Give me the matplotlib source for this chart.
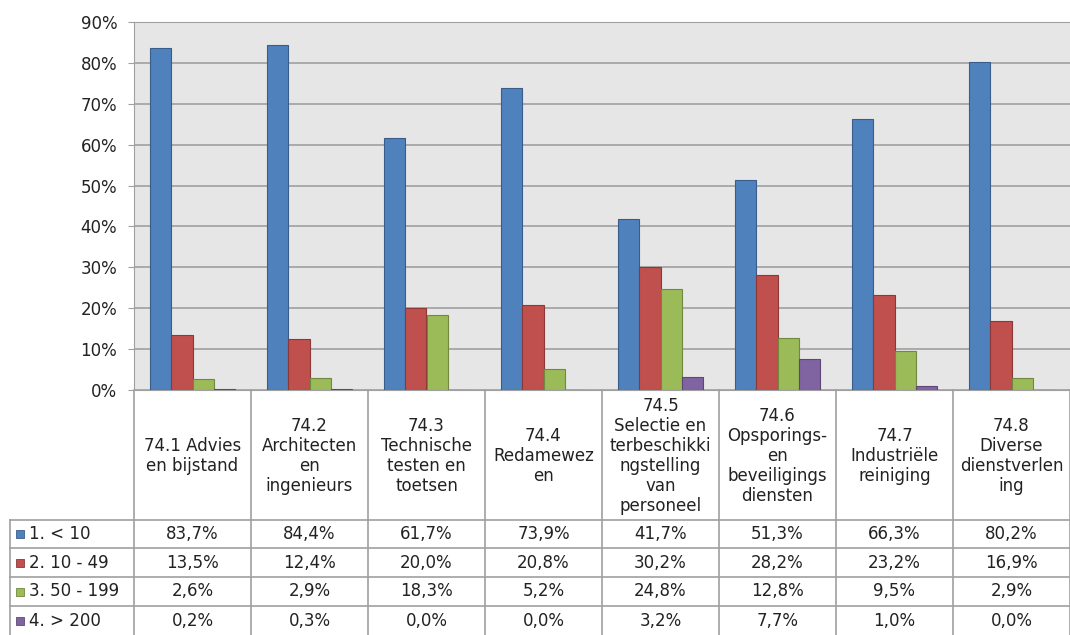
import numpy as np
import matplotlib.pyplot as plt
from matplotlib.patches import Rectangle

plt.rcParams['font.family'] = ['DejaVu Sans']

categories = ["74.1 Advies\nen bijstand",
              "74.2\nArchitecten\nen\ningenieurs",
              "74.3\nTechnische\ntesten en\ntoetsen",
              "74.4\nRedamewez\nen",
              "74.5\nSelectie en\nterbeschikki\nngstelling\nvan\npersoneel",
              "74.6\nOpsporings-\nen\nbeveiligings\ndiensten",
              "74.7\nIndustriële\nreiniging",
              "74.8\nDiverse\ndienstverlen\ning"]
series = ["1. < 10", "2. 10 - 49", "3. 50 - 199", "4. > 200"]
s1 = [83.7, 84.4, 61.7, 73.9, 41.7, 51.3, 66.3, 80.2]
s2 = [13.5, 12.4, 20.0, 20.8, 30.2, 28.2, 23.2, 16.9]
s3 = [2.6, 2.9, 18.3, 5.2, 24.8, 12.8, 9.5, 2.9]
s4 = [0.2, 0.3, 0.0, 0.0, 3.2, 7.7, 1.0, 0.0]
values = [s1, s2, s3, s4]
colors = ["#4F81BD", "#C0504D", "#9BBB59", "#8064A2"]
edges = ["#385D8A", "#8C3836", "#71893F", "#5C4776"]

W, H = 1070, 635
fig = plt.figure(figsize=(W / 100, H / 100), dpi=100)
ax = fig.add_axes([134 / W, 1 - 390 / H, (1070 - 134) / W, (390 - 22) / H])
ax.set_facecolor("#E6E6E6")

x = np.arange(len(categories))
bw = 0.18
for i, (vals, c, ec) in enumerate(zip(values, colors, edges)):
    ax.bar(x + (i - 1.5) * bw, np.array(vals) / 100, bw, color=c,
           edgecolor=ec, linewidth=0.8, zorder=3)

ax.set_xlim(-0.5, len(categories) - 0.5)
ax.set_ylim(0, 0.9)
ax.set_yticks(np.arange(0, 0.91, 0.1))
ax.set_yticklabels(["%d%%" % round(v * 100) for v in np.arange(0, 0.91, 0.1)],
                   fontsize=12, color="#222222")
ax.set_xticks([])
ax.grid(axis="y", color="#A0A0A0", linewidth=1.2, zorder=1)
ax.tick_params(axis="y", length=4, color="#A0A0A0", pad=8)
for s in ["top", "left", "bottom"]:
    ax.spines[s].set_color("#A0A0A0")
ax.spines["right"].set_visible(False)

# data table below the chart
unit = (1070 - 134) / len(categories)
x_left = -0.5 - (134 - 10) / unit
tax = fig.add_axes([10 / W, 0, (1070 - 10) / W, 245 / H])
tax.set_xlim(x_left, len(categories) - 0.5)
tax.set_ylim(245, 0)
tax.axis("off")
lc = "#A0A0A0"
rows = [130, 158, 187, 216, 245]

for b in np.arange(-0.5, len(categories), 1.0):
    tax.plot([b, b], [0, 245], color=lc, lw=1.2, clip_on=False)
tax.plot([x_left, x_left], [130, 245], color=lc, lw=1.2, clip_on=False)
for r in rows[:-1]:
    tax.plot([x_left, len(categories) - 0.5], [r, r], color=lc, lw=1.2, clip_on=False)

for i, cat in enumerate(categories):
    tax.text(i, 66, cat, ha="center", va="center", fontsize=12,
             color="#222222", linespacing=1.15)

for j, (name, vals, c, ec) in enumerate(zip(series, values, colors, edges)):
    yc = (rows[j] + rows[j + 1]) / 2
    sq = 8 / unit
    tax.add_patch(Rectangle((x_left + 6 / unit, yc - 4), sq, 8, facecolor=c,
                            edgecolor=ec, linewidth=0.6, clip_on=False))
    tax.text(x_left + 19 / unit, yc, name, ha="left", va="center",
             fontsize=12, color="#222222")
    for i, v in enumerate(vals):
        tax.text(i, yc, ("%.1f%%" % v).replace(".", ","), ha="center",
                 va="center", fontsize=12, color="#222222")

fig.savefig("out.png", dpi=100)
